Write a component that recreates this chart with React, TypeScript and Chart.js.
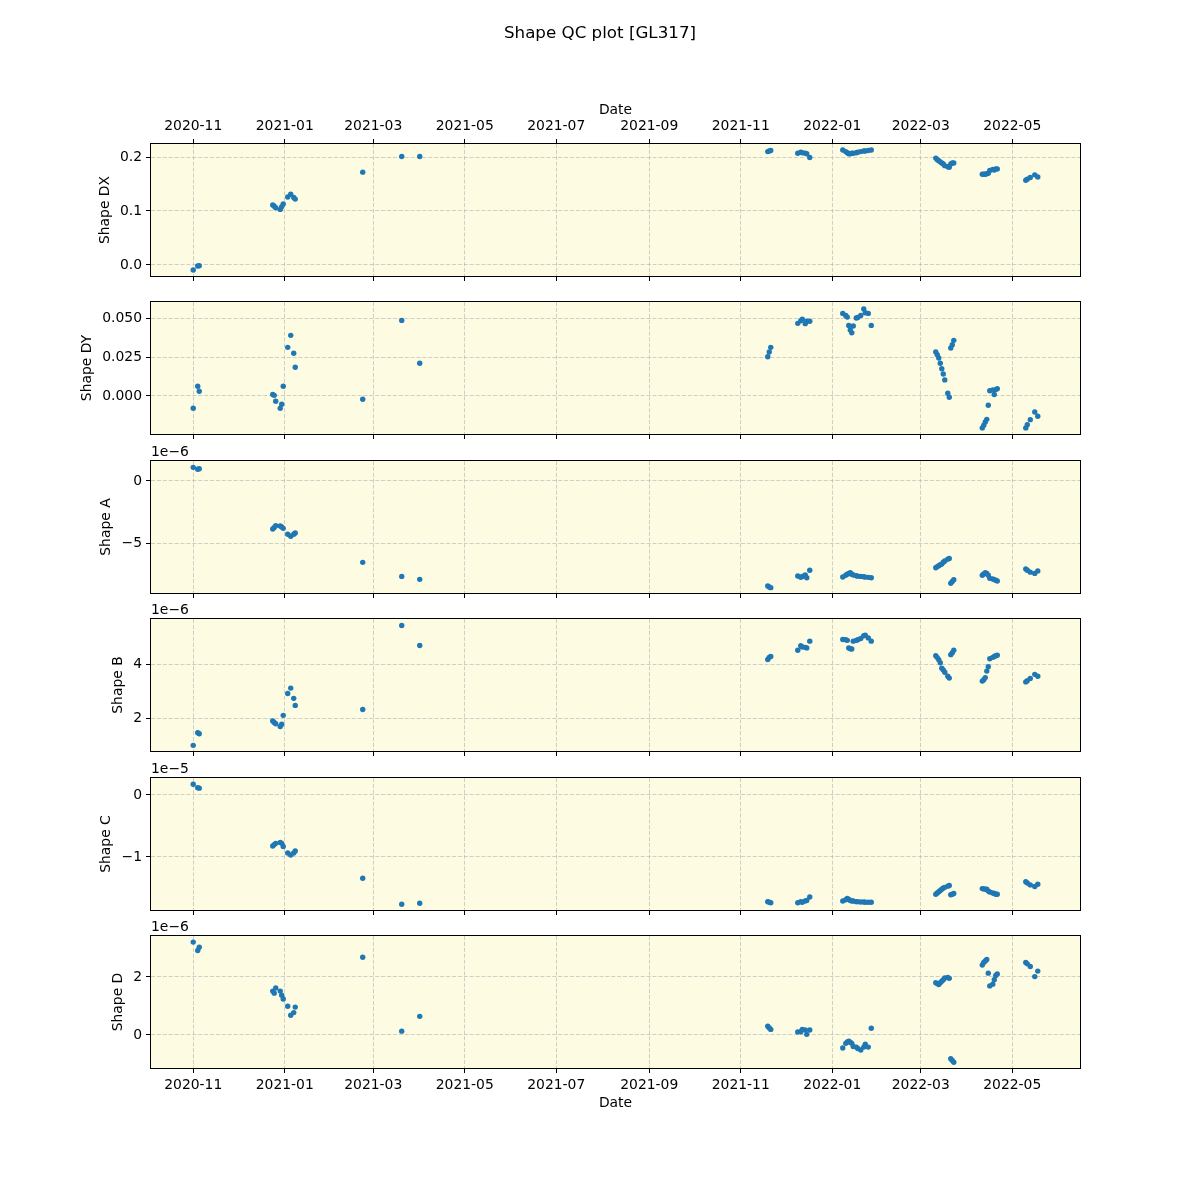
import React, { useEffect, useRef } from 'react';
import { Chart, registerables } from 'chart.js';

Chart.register(...registerables);

// ---------------- data ----------------
const chartTitle = 'Shape QC plot [GL317]';

const obsDates = [
  '2020-11-01', '2020-11-04', '2020-11-05',
  '2020-12-24', '2020-12-25', '2020-12-26', '2020-12-29', '2020-12-30', '2020-12-31',
  '2021-01-03', '2021-01-05', '2021-01-07', '2021-01-08',
  '2021-02-22',
  '2021-03-20', '2021-04-01',
  '2021-11-19', '2021-11-20', '2021-11-21',
  '2021-12-09', '2021-12-11', '2021-12-12', '2021-12-14', '2021-12-15', '2021-12-17',
  '2022-01-08', '2022-01-10', '2022-01-11', '2022-01-12', '2022-01-13', '2022-01-14', '2022-01-15',
  '2022-01-17', '2022-01-18', '2022-01-20', '2022-01-22', '2022-01-23', '2022-01-25', '2022-01-27',
  '2022-03-11', '2022-03-12', '2022-03-13', '2022-03-14', '2022-03-15', '2022-03-16', '2022-03-17',
  '2022-03-19', '2022-03-20', '2022-03-21', '2022-03-22', '2022-03-23',
  '2022-04-11', '2022-04-12', '2022-04-13', '2022-04-14', '2022-04-15', '2022-04-16', '2022-04-18',
  '2022-04-19', '2022-04-20', '2022-04-21',
  '2022-05-10', '2022-05-11', '2022-05-13', '2022-05-16', '2022-05-18',
];

const shapeDX = [
  -0.0093, -0.002, -0.0015,
  0.111, 0.109, 0.106, 0.103, 0.108, 0.113, 0.126, 0.131, 0.125, 0.122,
  0.172,
  0.201, 0.201,
  0.210, 0.211, 0.212,
  0.207, 0.209, 0.208, 0.207, 0.206, 0.199,
  0.213, 0.210, 0.208, 0.206, 0.206, 0.207, 0.207, 0.208, 0.209, 0.210, 0.211, 0.211, 0.212, 0.213,
  0.198, 0.195, 0.193, 0.191, 0.189, 0.187, 0.184, 0.182, 0.181, 0.187, 0.189, 0.189,
  0.168, 0.168, 0.168, 0.169, 0.170, 0.175, 0.177, 0.176, 0.178, 0.178,
  0.157, 0.159, 0.162, 0.167, 0.163,
];

const shapeDY = [
  -0.0079, 0.0062, 0.0030,
  0.0009, 0.0004, -0.0034, -0.0079, -0.0053, 0.0062, 0.0312, 0.0389, 0.0274, 0.0184,
  -0.0021,
  0.0485, 0.0210,
  0.0252, 0.0282, 0.0312,
  0.0466, 0.0483, 0.0492, 0.0464, 0.0479, 0.0479,
  0.0530, 0.0517, 0.0506, 0.0453, 0.0423, 0.0406, 0.0449, 0.0500, 0.0504, 0.0517, 0.0558, 0.0534, 0.0530, 0.0453,
  0.0282, 0.0265, 0.0244, 0.0210, 0.0175, 0.0141, 0.0103, 0.0017, -0.0008, 0.0308, 0.0329, 0.0357,
  -0.0205, -0.0188, -0.0167, -0.0150, -0.0060, 0.0034, 0.0038, 0.0009, 0.0041, 0.0047,
  -0.0205, -0.0184, -0.0152, -0.0103, -0.0130,
];

const shapeA = [
  1.10e-6, 0.94e-6, 0.98e-6,
  -3.87e-6, -3.75e-6, -3.60e-6, -3.63e-6, -3.70e-6, -3.82e-6, -4.30e-6, -4.46e-6, -4.30e-6, -4.19e-6,
  -6.56e-6,
  -7.69e-6, -7.93e-6,
  -8.47e-6, -8.55e-6, -8.60e-6,
  -7.66e-6, -7.77e-6, -7.70e-6, -7.58e-6, -7.80e-6, -7.20e-6,
  -7.74e-6, -7.60e-6, -7.52e-6, -7.45e-6, -7.39e-6, -7.52e-6, -7.58e-6, -7.64e-6, -7.67e-6, -7.69e-6, -7.72e-6, -7.75e-6, -7.77e-6, -7.80e-6,
  -7.00e-6, -6.90e-6, -6.83e-6, -6.75e-6, -6.70e-6, -6.55e-6, -6.45e-6, -6.30e-6, -6.24e-6, -8.25e-6, -8.10e-6, -7.96e-6,
  -7.60e-6, -7.50e-6, -7.40e-6, -7.45e-6, -7.60e-6, -7.85e-6, -7.90e-6, -7.95e-6, -8.00e-6, -8.06e-6,
  -7.10e-6, -7.20e-6, -7.35e-6, -7.45e-6, -7.25e-6,
];

const shapeB = [
  0.99e-6, 1.46e-6, 1.42e-6,
  1.89e-6, 1.84e-6, 1.79e-6, 1.69e-6, 1.77e-6, 2.10e-6, 2.91e-6, 3.11e-6, 2.73e-6, 2.47e-6,
  2.32e-6,
  5.43e-6, 4.69e-6,
  4.17e-6, 4.25e-6, 4.28e-6,
  4.51e-6, 4.68e-6, 4.63e-6, 4.62e-6, 4.60e-6, 4.85e-6,
  4.91e-6, 4.90e-6, 4.88e-6, 4.60e-6, 4.57e-6, 4.56e-6, 4.85e-6, 4.88e-6, 4.90e-6, 4.95e-6, 5.05e-6, 5.07e-6, 4.97e-6, 4.85e-6,
  4.31e-6, 4.24e-6, 4.16e-6, 4.05e-6, 3.85e-6, 3.78e-6, 3.70e-6, 3.55e-6, 3.48e-6, 4.35e-6, 4.42e-6, 4.51e-6,
  3.37e-6, 3.42e-6, 3.50e-6, 3.74e-6, 3.90e-6, 4.20e-6, 4.25e-6, 4.28e-6, 4.31e-6, 4.33e-6,
  3.34e-6, 3.38e-6, 3.47e-6, 3.62e-6, 3.55e-6,
];

const shapeC = [
  0.173e-5, 0.118e-5, 0.110e-5,
  -0.823e-5, -0.800e-5, -0.780e-5, -0.765e-5, -0.780e-5, -0.830e-5, -0.935e-5, -0.968e-5, -0.935e-5, -0.903e-5,
  -1.344e-5,
  -1.763e-5, -1.747e-5,
  -1.720e-5, -1.730e-5, -1.737e-5,
  -1.737e-5, -1.720e-5, -1.730e-5, -1.710e-5, -1.700e-5, -1.645e-5,
  -1.710e-5, -1.690e-5, -1.670e-5, -1.685e-5, -1.700e-5, -1.710e-5, -1.710e-5, -1.720e-5, -1.720e-5, -1.725e-5, -1.725e-5, -1.730e-5, -1.730e-5, -1.730e-5,
  -1.600e-5, -1.580e-5, -1.560e-5, -1.540e-5, -1.520e-5, -1.500e-5, -1.490e-5, -1.470e-5, -1.460e-5, -1.610e-5, -1.600e-5, -1.590e-5,
  -1.510e-5, -1.515e-5, -1.520e-5, -1.520e-5, -1.550e-5, -1.565e-5, -1.580e-5, -1.590e-5, -1.600e-5, -1.600e-5,
  -1.400e-5, -1.420e-5, -1.450e-5, -1.475e-5, -1.440e-5,
];

const shapeD = [
  3.20e-6, 2.91e-6, 3.02e-6,
  1.51e-6, 1.44e-6, 1.62e-6, 1.51e-6, 1.37e-6, 1.24e-6, 0.99e-6, 0.68e-6, 0.77e-6, 0.96e-6,
  2.68e-6,
  0.13e-6, 0.64e-6,
  0.30e-6, 0.24e-6, 0.19e-6,
  0.10e-6, 0.11e-6, 0.19e-6, 0.17e-6, 0.02e-6, 0.17e-6,
  -0.45e-6, -0.29e-6, -0.24e-6, -0.22e-6, -0.25e-6, -0.29e-6, -0.40e-6, -0.42e-6, -0.47e-6, -0.52e-6, -0.42e-6, -0.32e-6, -0.42e-6, 0.23e-6,
  1.80e-6, 1.77e-6, 1.74e-6, 1.80e-6, 1.85e-6, 1.90e-6, 1.96e-6, 1.98e-6, 1.95e-6, -0.82e-6, -0.88e-6, -0.94e-6,
  2.41e-6, 2.50e-6, 2.55e-6, 2.60e-6, 2.13e-6, 1.69e-6, 1.75e-6, 1.90e-6, 2.05e-6, 2.10e-6,
  2.50e-6, 2.45e-6, 2.36e-6, 2.01e-6, 2.20e-6,
];

const monthTickLabels = [
  '2020-11', '2021-01', '2021-03', '2021-05', '2021-07', '2021-09',
  '2021-11', '2022-01', '2022-03', '2022-05',
];

const dxTicks = [0, 0.1, 0.2];
const dyTicks = [0, 0.025, 0.05];
const aTicks = [-5e-6, 0];
const bTicks = [2e-6, 4e-6];
const cTicks = [-1e-5, 0];
const dTicks = [0, 2e-6];

// ---------------- layout / style ----------------
const DAY = 86400000;
const xValues = obsDates.map((d) => Date.parse(d));
const monthTicks = monthTickLabels.map((m) => Date.parse(m + '-01'));
const xMin = Date.parse('2020-11-01') - 28.15 * DAY;
const xMax = Date.parse('2020-11-01') + 591.15 * DAY;

const MINUS = '\u2212';
const fmt = (v: number, digits: number) => {
  const r = Number(v.toFixed(digits));
  return (r < 0 ? MINUS : '') + Math.abs(r).toFixed(digits);
};

const panelBoxes: [number, number][] = [
  [144, 276],
  [302, 434],
  [461, 593],
  [619, 751],
  [778, 910],
  [936, 1068],
];

const panelDefs = [
  { label: 'Shape DX', values: shapeDX, min: -0.0204, max: 0.2241, ticks: dxTicks, factor: 1, digits: 1, titleX: 105, offsetText: '' },
  { label: 'Shape DY', values: shapeDY, min: -0.0244, max: 0.0603, ticks: dyTicks, factor: 1, digits: 3, titleX: 87, offsetText: '' },
  { label: 'Shape A', values: shapeA, min: -9.03e-6, max: 1.61e-6, ticks: aTicks, factor: 1e-6, digits: 0, titleX: 106, offsetText: '1e' + MINUS + '6' },
  { label: 'Shape B', values: shapeB, min: 0.78e-6, max: 5.67e-6, ticks: bTicks, factor: 1e-6, digits: 0, titleX: 118, offsetText: '1e' + MINUS + '6' },
  { label: 'Shape C', values: shapeC, min: -1.855e-5, max: 0.274e-5, ticks: cTicks, factor: 1e-5, digits: 0, titleX: 106, offsetText: '1e' + MINUS + '5' },
  { label: 'Shape D', values: shapeD, min: -1.14e-6, max: 3.41e-6, ticks: dTicks, factor: 1e-6, digits: 0, titleX: 118, offsetText: '1e' + MINUS + '6' },
];

const FONT = { family: '"DejaVu Sans", sans-serif', size: 13.9 };
const HALF_LINE = (13.9 * 1.2) / 2;
const GRID_COLOR = 'rgba(176,176,176,0.6)';
const GRID_DASH = [4.1, 1.8];
const BG = 'rgb(253,252,227)';
const POINT_COLOR = '#1f77b4';

const framePlugin = {
  id: 'frame',
  beforeDraw(chart: any) {
    const { ctx, chartArea } = chart;
    const { left, top, right, bottom } = chartArea;
    ctx.save();
    ctx.fillStyle = BG;
    ctx.fillRect(left, top, right - left, bottom - top);
    ctx.restore();
  },
  afterDraw(chart: any) {
    const { ctx, chartArea } = chart;
    const { left, top, right, bottom } = chartArea;
    ctx.save();
    ctx.strokeStyle = '#000';
    ctx.lineWidth = 1;
    ctx.strokeRect(Math.round(left) - 0.5, Math.round(top) - 0.5, Math.round(right - left) + 1, Math.round(bottom - top) + 1);
    ctx.restore();
  },
};

const monthLabel = (v: number) => new Date(v).toISOString().slice(0, 7);

function Panel({ idx }: { idx: number }) {
  const ref = useRef<HTMLCanvasElement>(null);
  useEffect(() => {
    const p = panelDefs[idx];
    const [top, bottom] = panelBoxes[idx];
    const isFirst = idx === 0;
    const isLast = idx === panelDefs.length - 1;
    const topH = isFirst ? 44 : 0;
    const botH = isLast ? 49 : 0;

    const xGrid = {
      color: GRID_COLOR,
      lineWidth: 1,
      drawTicks: true,
      tickLength: 5,
      tickColor: '#000',
      tickWidth: 1,
      tickBorderDash: [],
    };

    const scales: any = {
      x: {
        type: 'linear',
        position: 'bottom',
        min: xMin,
        max: xMax,
        bounds: 'data',
        afterFit: (s: any) => { s.height = botH; },
        afterBuildTicks: (s: any) => { s.ticks = monthTicks.map((v) => ({ value: v })); },
        ticks: {
          display: isLast,
          autoSkip: false,
          maxRotation: 0,
          color: '#000',
          font: FONT,
          padding: 4,
          callback: (v: any) => monthLabel(Number(v)),
        },
        grid: xGrid,
        border: { display: false, dash: GRID_DASH },
        title: {
          display: isLast,
          text: 'Date',
          color: '#000',
          font: FONT,
          padding: { top: 0, bottom: 14 - HALF_LINE },
        },
      },
      y: {
        type: 'linear',
        position: 'left',
        min: p.min,
        max: p.max,
        bounds: 'data',
        afterFit: (s: any) => { s.width = 151; },
        afterBuildTicks: (s: any) => { s.ticks = p.ticks.map((v) => ({ value: v })); },
        ticks: {
          color: '#000',
          font: FONT,
          padding: 4,
          callback: (v: any) => fmt(Number(v) / p.factor, p.digits),
        },
        grid: {
          color: GRID_COLOR,
          lineWidth: 1,
          drawTicks: true,
          tickLength: 5,
          tickColor: '#000',
          tickWidth: 1,
          tickBorderDash: [],
        },
        border: { display: false, dash: GRID_DASH },
        title: {
          display: true,
          text: p.label,
          color: '#000',
          font: FONT,
          padding: { top: p.titleX - HALF_LINE, bottom: 0 },
        },
      },
    };

    if (isFirst) {
      scales.xTop = {
        type: 'linear',
        position: 'top',
        min: xMin,
        max: xMax,
        bounds: 'data',
        afterFit: (s: any) => { s.height = topH; },
        afterBuildTicks: (s: any) => { s.ticks = monthTicks.map((v) => ({ value: v })); },
        ticks: {
          display: true,
          autoSkip: false,
          maxRotation: 0,
          color: '#000',
          font: FONT,
          padding: 4,
          callback: (v: any) => monthLabel(Number(v)),
        },
        grid: { ...xGrid, drawOnChartArea: false },
        border: { display: false },
        title: {
          display: true,
          text: 'Date',
          color: '#000',
          font: FONT,
          padding: { top: 10 - HALF_LINE, bottom: 0 },
        },
      };
    }

    const chart = new Chart(ref.current as HTMLCanvasElement, {
      type: 'scatter',
      data: {
        datasets: [
          {
            label: p.label,
            data: xValues.map((x, i) => ({ x, y: p.values[i] })),
            backgroundColor: POINT_COLOR,
            borderColor: POINT_COLOR,
            borderWidth: 0,
            pointRadius: 2.7,
            pointHoverRadius: 2.7,
            xAxisID: 'x',
            yAxisID: 'y',
          },
        ],
      },
      options: {
        responsive: false,
        animation: false,
        events: [],
        layout: {
          padding: { left: 0, right: 120, top: top - topH, bottom: 1200 - bottom - botH },
        },
        plugins: {
          legend: { display: false },
          tooltip: { enabled: false },
        },
        scales,
      } as any,
      plugins: [framePlugin],
    });
    return () => chart.destroy();
  }, [idx]);

  return (
    <canvas
      ref={ref}
      width={1200}
      height={1200}
      style={{ position: 'absolute', left: 0, top: 0, width: 1200, height: 1200 }}
    />
  );
}

export default function App() {
  return (
    <div
      style={{
        position: 'absolute',
        left: 0,
        top: 0,
        width: 1200,
        height: 1200,
        background: '#fff',
        fontFamily: '"DejaVu Sans", sans-serif',
        color: '#000',
      }}
    >
      {panelDefs.map((_, i) => (
        <Panel key={i} idx={i} />
      ))}
      <div
        style={{
          position: 'absolute',
          left: 0,
          top: 22,
          width: 1200,
          textAlign: 'center',
          fontSize: 16.7,
          lineHeight: '20px',
        }}
      >
        {chartTitle}
      </div>
      {panelDefs.map((p, i) =>
        p.offsetText ? (
          <div
            key={'off' + i}
            style={{
              position: 'absolute',
              left: 151,
              top: panelBoxes[i][0] - 18,
              fontSize: 13.9,
              lineHeight: '16px',
            }}
          >
            {p.offsetText}
          </div>
        ) : null
      )}
    </div>
  );
}
